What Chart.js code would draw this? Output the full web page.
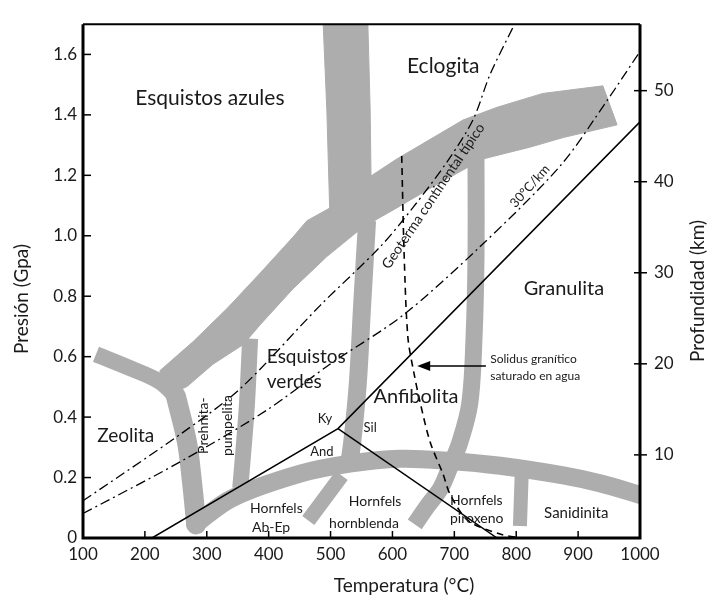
<!DOCTYPE html>
<html><head><meta charset="utf-8">
<script src="https://cdn.jsdelivr.net/npm/chart.js@4.4.0/dist/chart.umd.min.js"></script>
<style>html,body{margin:0;padding:0;background:#fff}#wrap{width:712px;height:602px}</style>
</head><body><div id="wrap"><canvas id="c" width="712" height="602"></canvas></div>
<script>
const FONT = 'Lato, "DejaVu Sans", sans-serif';
const GRAY = '#adadad';
const INK = '#1a1a1a';

// ---- axis ticks ----
const xTicks = [100, 200, 300, 400, 500, 600, 700, 800, 900, 1000];
const xTickLabels = ['100', '200', '300', '400', '500', '600', '700', '800', '900', '1000'];
const yTicks = [0, 0.2, 0.4, 0.6, 0.8, 1.0, 1.2, 1.4, 1.6];
const yTickLabels = ['0', '0.2', '0.4', '0.6', '0.8', '1.0', '1.2', '1.4', '1.6'];
const depthTicks = [10, 20, 30, 40, 50];
const depthTickLabels = ['10', '20', '30', '40', '50'];

// ---- facies boundary bands [T (°C), P (GPa)] ----
const bandBlueschistEclogite = [[486,1.80],[494,1.416],[499,1.06],[566,1.10],[564,1.416],[559,1.80],[486,1.80]];
const bandBlueschistGreenschist = [
  [940,1.496],[843,1.471],[769,1.425],[714,1.383],[661,1.319],[607,1.254],[564,1.196],[531,1.157],
  [499,1.092],[462,1.050],[439,0.995],[386,0.876],[333,0.760],[278,0.650],[224,0.553],[237,0.472],
  [268,0.501],[310,0.575],[359,0.640],[386,0.705],[439,0.824],[494,0.931],[552,1.028],[607,1.092],
  [661,1.157],[746,1.254],[822,1.293],[876,1.325],[963,1.367],[940,1.496]
];
const bandZeoliteBlueschist = [[121,0.608],[176,0.562],[224,0.517],[253,0.462]];
const bandZeolitePrehnite = [[250,0.470],[268,0.317],[276,0.187],[283,0.045]];
const bandPrehniteGreenschist = [[370,0.660],[365,0.446],[359,0.284],[354,0.165]];
const bandGreenschistAmphibolite = [[559,1.05],[551,0.769],[544,0.511],[535,0.317],[530,0.246]];
const bandAmphiboliteGranulite = [[735,1.28],[735,0.931],[732,0.672],[725,0.446],[709,0.317],[693,0.236],[678,0.165],[657,0.107],[636,0.045]];
const bandHornfels = [[281,0.045],[342,0.133],[451,0.213],[531,0.246],[612,0.262],[693,0.255],[774,0.239],[876,0.207],[935,0.181],[1005,0.140]];
const bandAbEpHornblende = [[518,0.207],[464,0.058]];
const bandPyroxeneSanidinite = [[809,0.220],[806,0.040]];

// ---- lines ----
const lineKyAndSil = [[211.5,0],[512,0.362],[1000,1.377]];
const lineAndSil = [[512,0.362],[769,0]];
const lineSolidus = [[615,1.264],[619,0.931],[625,0.663],[635,0.543],[645,0.446],[661,0.317],[682,0.210],[693,0.145],[722,0.058],[774,0.013],[809,0]];
const geothermContinental = [[100,0.123],[257,0.343],[354,0.494],[483,0.769],[580,0.963],[633,1.093],[688,1.244],[730,1.383],[758,1.535],[798,1.703]];
const geotherm30 = [[100,0.081],[257,0.252],[397,0.423],[499,0.575],[617,0.737],[741,0.963],[871,1.231],[947,1.448],[1000,1.61]];

// ---- text annotations (anchored in data coordinates) ----
const labels = [
  {t:'Esquistos azules', T:305, P:1.454, size:21, align:'center'},
  {t:'Eclogita', T:682, P:1.561, size:21, align:'center'},
  {t:'Granulita', T:877, P:0.824, size:20, align:'center'},
  {t:'Esquistos', T:397, P:0.598, size:19, align:'left'},
  {t:'verdes', T:397, P:0.517, size:19, align:'left'},
  {t:'Anfibolita', T:638, P:0.469, size:20, align:'center'},
  {t:'Zeolita', T:169, P:0.339, size:19, align:'center'},
  {t:'Prehnita-', T:294, P:0.372, size:14, align:'center', rot:-90},
  {t:'pumpelita', T:333, P:0.372, size:14, align:'center', rot:-90},
  {t:'Ky', T:491, P:0.394, size:13, align:'center'},
  {t:'Sil', T:564, P:0.365, size:13, align:'center'},
  {t:'And', T:486, P:0.284, size:13, align:'center'},
  {t:'Hornfels', T:370, P:0.097, size:14, align:'left'},
  {t:'Ab-Ep', T:373, P:0.036, size:14, align:'left'},
  {t:'Hornfels', T:572, P:0.120, size:14, align:'center'},
  {t:'hornblenda', T:554, P:0.048, size:14, align:'center'},
  {t:'Hornfels', T:693, P:0.123, size:14, align:'left'},
  {t:'piroxeno', T:693, P:0.065, size:14, align:'left'},
  {t:'Sanidinita', T:897, P:0.081, size:15, align:'center'},
  {t:'Solidus granítico', T:758, P:0.591, size:12, align:'left'},
  {t:'saturado en agua', T:758, P:0.537, size:12, align:'left'},
  {t:'30°C/km', T:822, P:1.164, size:13, align:'center', rot:-48},
  {t:'Geoterma continental típico', T:666, P:1.131, size:14, align:'center', rot:-56}
];
const arrow = {from:[751,0.569], to:[640,0.569]};

const toXY = arr => arr.map(([x, y]) => ({x, y}));
function band(data, width, cap) {
  return {data: toXY(data), showLine:true, borderColor:GRAY, borderWidth:width, pointRadius:0,
          tension:0.35, borderCapStyle:cap || 'butt', borderJoinStyle:'round', fill:false, clip:0, order:10};
}
function poly(data) {
  return {data: toXY(data), showLine:true, borderColor:GRAY, backgroundColor:GRAY, borderWidth:1,
          pointRadius:0, tension:0, fill:'shape', clip:0, order:10};
}
function line(data, width, dash, tension) {
  return {data: toXY(data), showLine:true, borderColor:'#000', borderWidth:width, borderDash:dash || [],
          pointRadius:0, tension:tension || 0, fill:false, clip:0, order:1};
}

const datasets = [
  poly(bandBlueschistEclogite),
  poly(bandBlueschistGreenschist),
  band(bandZeoliteBlueschist, 16),
  band(bandZeolitePrehnite, 20, 'round'),
  band(bandPrehniteGreenschist, 16),
  band(bandGreenschistAmphibolite, 18),
  band(bandAmphiboliteGranulite, 17),
  band(bandHornfels, 18, 'round'),
  band(bandAbEpHornblende, 15),
  band(bandPyroxeneSanidinite, 14),
  line(lineKyAndSil, 1.5),
  line(lineAndSil, 1.5),
  line(lineSolidus, 1.6, [7, 5], 0.3),
  line(geothermContinental, 1.3, [10, 4, 2, 4], 0.3),
  line(geotherm30, 1.3, [10, 4, 2, 4], 0.3)
];

function seg(ctx, x1, y1, x2, y2) { ctx.beginPath(); ctx.moveTo(x1, y1); ctx.lineTo(x2, y2); ctx.stroke(); }

const decor = {
  id: 'decor',
  afterDatasetsDraw(chart) {
    const {ctx, chartArea: a, scales: {x, y, y2}} = chart;
    ctx.save();
    ctx.strokeStyle = '#000';
    ctx.lineWidth = 3;
    ctx.beginPath(); ctx.moveTo(a.left, a.top); ctx.lineTo(a.left, a.bottom); ctx.lineTo(a.right, a.bottom); ctx.lineTo(a.right, a.top); ctx.stroke();
    ctx.lineWidth = 2; seg(ctx, a.left, a.top, a.right, a.top);
    ctx.lineWidth = 1.5;
    xTicks.forEach(v => { const p = x.getPixelForValue(v); seg(ctx, p, a.bottom, p, a.bottom - 7); });
    yTicks.forEach(v => { const p = y.getPixelForValue(v); seg(ctx, a.left, p, a.left + 8, p); });
    depthTicks.forEach(v => { const p = y2.getPixelForValue(v); seg(ctx, a.right - 6, p, a.right + 7, p); });

    // arrow
    const ax1 = x.getPixelForValue(arrow.from[0]), ay1 = y.getPixelForValue(arrow.from[1]);
    const ax2 = x.getPixelForValue(arrow.to[0]), ay2 = y.getPixelForValue(arrow.to[1]);
    ctx.lineWidth = 1.6; seg(ctx, ax1, ay1, ax2 + 6, ay2);
    ctx.fillStyle = '#000';
    ctx.beginPath(); ctx.moveTo(ax2, ay2); ctx.lineTo(ax2 + 13, ay2 - 5); ctx.lineTo(ax2 + 13, ay2 + 5); ctx.closePath(); ctx.fill();

    // labels
    ctx.fillStyle = INK;
    ctx.textBaseline = 'middle';
    labels.forEach(l => {
      const px = x.getPixelForValue(l.T), py = y.getPixelForValue(l.P);
      ctx.save();
      ctx.translate(px, py);
      if (l.rot) ctx.rotate(l.rot * Math.PI / 180);
      ctx.font = `${l.size}px ${FONT}`;
      ctx.textAlign = l.align;
      ctx.fillText(l.t, 0, 0);
      ctx.restore();
    });

    // axis titles
    ctx.font = `19px ${FONT}`;
    ctx.textAlign = 'center';
    ctx.fillText('Temperatura (°C)', 404, 586);
    ctx.save(); ctx.translate(22, 299); ctx.rotate(-Math.PI / 2); ctx.fillText('Presión (Gpa)', 0, 0); ctx.restore();
    ctx.save(); ctx.translate(698, 291); ctx.rotate(-Math.PI / 2); ctx.fillText('Profundidad (km)', 0, 0); ctx.restore();
    ctx.restore();
  }
};

const tickFont = {family: FONT, size: 17};
new Chart(document.getElementById('c'), {
  type: 'scatter',
  data: {datasets},
  options: {
    responsive: false, animation: false, devicePixelRatio: 1,
    layout: {padding: {top: 11, left: 0, right: 0, bottom: 0}},
    plugins: {legend: {display: false}, tooltip: {enabled: false}},
    scales: {
      x: {type: 'linear', position: 'bottom', min: 100, max: 1000,
          afterBuildTicks: s => { s.ticks = xTicks.map(v => ({value: v})); },
          ticks: {font: tickFont, color: INK, padding: 6, maxRotation: 0, autoSkip: false,
                  callback: (v, i) => xTickLabels[i]},
          grid: {display: false, drawTicks: false}, border: {display: false},
          afterFit: s => { s.height = 64; }},
      y: {type: 'linear', position: 'left', min: 0, max: 1.7,
          afterBuildTicks: s => { s.ticks = yTicks.map(v => ({value: v})); },
          ticks: {font: tickFont, color: INK, padding: 6, autoSkip: false,
                  callback: (v, i) => yTickLabels[i]},
          grid: {display: false, drawTicks: false}, border: {display: false},
          afterFit: s => { s.width = 83; }},
      y2: {type: 'linear', position: 'right', min: 0.87, max: 57.3,
          afterBuildTicks: s => { s.ticks = depthTicks.map(v => ({value: v})); },
          ticks: {font: tickFont, color: INK, padding: 14, autoSkip: false,
                  callback: (v, i) => depthTickLabels[i]},
          grid: {display: false, drawTicks: false}, border: {display: false},
          afterFit: s => { s.width = 72; }}
    }
  },
  plugins: [decor]
});
</script></body></html>
